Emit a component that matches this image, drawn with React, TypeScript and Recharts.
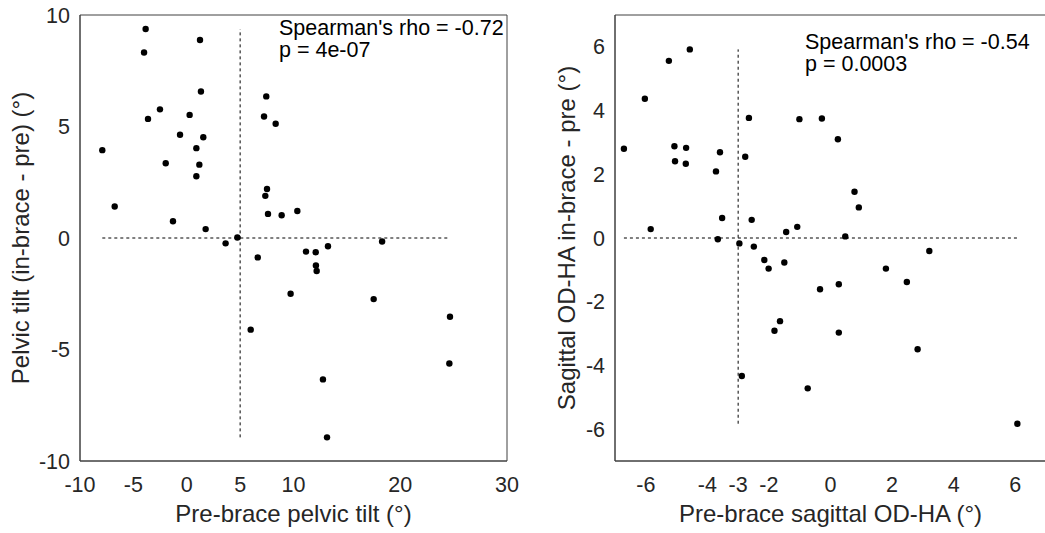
import React from "react";
import {
  ScatterChart,
  Scatter,
  XAxis,
  YAxis,
  ReferenceLine,
} from "recharts";

// left panel: pelvic tilt
const pelvicPre = [
  -3.85, 1.24, -4.0, 1.33, 7.45, -2.51, -3.63, 0.27, 7.24, 8.33, -0.63, 1.55, 0.9, -7.91,
  -1.97, 1.18, 0.9, 7.52, 7.36, -6.75, 7.61, 8.89, 10.36, -1.29, 1.77, 3.64, 4.74, 18.3,
  6.65, 11.17, 12.08, 13.23, 12.1, 12.17, 9.73, 17.51, 24.66, 5.99, 24.6, 12.76, 13.14,
];
const pelvicDelta = [
  9.37, 8.88, 8.32, 6.57, 6.35, 5.77, 5.34, 5.52, 5.45, 5.12, 4.63, 4.52, 4.03, 3.94,
  3.35, 3.29, 2.77, 2.2, 1.89, 1.41, 1.08, 1.02, 1.21, 0.75, 0.4, -0.24, 0.02, -0.16,
  -0.87, -0.61, -0.64, -0.37, -1.23, -1.48, -2.5, -2.74, -3.53, -4.11, -5.63, -6.34, -8.94,
];
const pelvicXTicks = [-10, -5, 0, 5, 10, 20, 30];
const pelvicYTicks = [-10, -5, 0, 5, 10];

// right panel: sagittal OD-HA
const odhaPre = [
  -6.71, -6.03, -5.84, -5.25, -4.57, -5.07, -5.05, -4.69, -4.7, -3.72, -3.59, -3.52, -3.66,
  -2.96, -2.77, -2.65, -2.56, -2.49, -2.15, -2.01, -1.5, -1.44, -1.08, -1.01, -0.28, 0.24,
  0.48, 0.78, 0.92, 3.21, 1.8, 2.48, -0.34, 0.27, -1.64, -1.82, 0.27, 2.83, -2.88, -0.74, 6.07,
];
const odhaDelta = [
  2.8, 4.37, 0.28, 5.56, 5.92, 2.88, 2.41, 2.83, 2.33, 2.09, 2.69, 0.63, -0.04, -0.17,
  2.55, 3.77, 0.57, -0.27, -0.69, -0.96, -0.77, 0.19, 0.35, 3.73, 3.75, 3.1, 0.05, 1.45,
  0.96, -0.41, -0.96, -1.38, -1.61, -1.45, -2.61, -2.91, -2.97, -3.49, -4.33, -4.72, -5.83,
];
const odhaXTicks = [-6, -4, -3, -2, 0, 2, 4, 6];
const odhaYTicks = [-6, -4, -2, 0, 2, 4, 6];

const FONT = "'Liberation Sans', Arial, Helvetica, sans-serif";
const TEXT = "#262626";
const AXIS = "#404040";
const blank = () => "";

const Dot = (props: any) => <circle cx={props.cx} cy={props.cy} r={3.2} fill="#000" />;

interface PanelProps {
  left: number;
  width: number;
  yAxisWidth: number;
  rightMargin: number;
  xs: number[];
  ys: number[];
  xDomain: [number, number];
  yDomain: [number, number];
  xTicks: number[];
  yTicks: number[];
  cutX: number;
  xLabel: string;
  yLabel: string;
  yLabelX: number;
  stats: [string, string];
  statsX: number;
  statsY: number;
}

function Panel(p: PanelProps) {
  const data = p.xs.map((x, i) => ({ x, y: p.ys[i] }));
  const height = 533;
  const top = 15;
  const xAxisHeight = 72;
  const plotBottom = height - xAxisHeight;
  const plotLeft = p.yAxisWidth;
  const plotRight = p.width - p.rightMargin;
  const cx = (plotLeft + plotRight) / 2;
  const cy = (top + plotBottom) / 2;
  const tickStyle = { fill: TEXT, fontSize: 21.5, fontFamily: FONT };
  const minX = Math.min(...p.xs);
  const maxX = Math.max(...p.xs);
  const minY = Math.min(...p.ys);
  const maxY = Math.max(...p.ys);

  // inward tick marks on all four sides come from mirrored axes
  const xShared = {
    type: "number" as const,
    domain: p.xDomain,
    ticks: p.xTicks,
    interval: 0 as const,
    stroke: AXIS,
  };
  const yShared = {
    type: "number" as const,
    domain: p.yDomain,
    ticks: p.yTicks,
    interval: 0 as const,
    stroke: AXIS,
  };

  return (
    <div style={{ position: "absolute", left: p.left, top: 0 }}>
      <ScatterChart
        width={p.width}
        height={height}
        margin={{ top, right: p.rightMargin, bottom: 0, left: 0 }}
      >
        <XAxis
          {...xShared}
          dataKey="x"
          height={xAxisHeight}
          tickLine={false}
          tickSize={4}
          tickMargin={12}
          tick={tickStyle}
        />
        <XAxis {...xShared} xAxisId="bin" orientation="bottom" mirror tickSize={4} tickFormatter={blank} />
        <XAxis {...xShared} xAxisId="tin" orientation="top" mirror tickSize={4} tickFormatter={blank} />
        <YAxis
          {...yShared}
          dataKey="y"
          width={p.yAxisWidth}
          tickLine={false}
          tickSize={4}
          tickMargin={6}
          tick={tickStyle}
        />
        <YAxis {...yShared} yAxisId="lin" orientation="left" mirror tickSize={4} tickFormatter={blank} />
        <YAxis {...yShared} yAxisId="rin" orientation="right" mirror tickSize={4} tickFormatter={blank} />
        <ReferenceLine
          segment={[{ x: minX, y: 0 }, { x: maxX, y: 0 }]}
          stroke="#000"
          strokeDasharray="3 3"
        />
        <ReferenceLine
          segment={[{ x: p.cutX, y: minY }, { x: p.cutX, y: maxY }]}
          stroke="#000"
          strokeDasharray="3 3"
        />
        <Scatter data={data} shape={Dot} isAnimationActive={false} />
        <text
          x={cx}
          y={522}
          textAnchor="middle"
          fill={TEXT}
          fontSize={24}
          fontFamily={FONT}
        >
          {p.xLabel}
        </text>
        <text
          transform={`translate(${p.yLabelX},${cy}) rotate(-90)`}
          textAnchor="middle"
          fill={TEXT}
          fontSize={24}
          fontFamily={FONT}
        >
          {p.yLabel}
        </text>
        <text x={p.statsX} y={p.statsY} fill="#000" fontSize={21.5} fontFamily={FONT}>
          {p.stats[0]}
        </text>
        <text x={p.statsX} y={p.statsY + 22} fill="#000" fontSize={21.5} fontFamily={FONT}>
          {p.stats[1]}
        </text>
      </ScatterChart>
    </div>
  );
}

export default function App() {
  return (
    <div
      style={{
        position: "absolute",
        left: 0,
        top: 0,
        width: 1045,
        height: 533,
        background: "#fff",
        overflow: "hidden",
      }}
    >
      <Panel
        left={0}
        width={520}
        yAxisWidth={80}
        rightMargin={13}
        xs={pelvicPre}
        ys={pelvicDelta}
        xDomain={[-10, 30]}
        yDomain={[-10, 10]}
        xTicks={pelvicXTicks}
        yTicks={pelvicYTicks}
        cutX={5}
        xLabel="Pre-brace pelvic tilt (°)"
        yLabel="Pelvic tilt (in-brace - pre) (°)"
        yLabelX={28.5}
        stats={["Spearman's rho = -0.72", "p = 4e-07"]}
        statsX={279}
        statsY={35}
      />
      <Panel
        left={520}
        width={526}
        yAxisWidth={95}
        rightMargin={0}
        xs={odhaPre}
        ys={odhaDelta}
        xDomain={[-7, 7]}
        yDomain={[-7, 7]}
        xTicks={odhaXTicks}
        yTicks={odhaYTicks}
        cutX={-3}
        xLabel="Pre-brace sagittal OD-HA (°)"
        yLabel="Sagittal OD-HA in-brace - pre (°)"
        yLabelX={55}
        stats={["Spearman's rho = -0.54", "p = 0.0003"]}
        statsX={285}
        statsY={49}
      />
    </div>
  );
}
